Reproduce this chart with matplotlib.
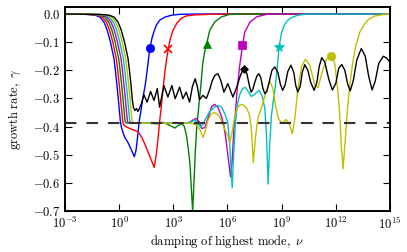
import numpy as np
import matplotlib
matplotlib.use("Agg")
import matplotlib.pyplot as plt
from matplotlib.ticker import FuncFormatter, NullLocator

plt.rcParams["mathtext.fontset"] = "cm"
plt.rcParams["font.size"] = 9

# curves: log10(nu) and growth rate gamma
blue_lognu = [-3.00, -1.89, -1.34, -1.06, -0.84, -0.68, -0.57, -0.48, -0.40, -0.29, -0.21, -0.12,
              -0.05, 0.02, 0.07, 0.13, 0.21, 0.32, 0.49, 0.65, 0.84, 0.93, 1.01, 1.10, 1.18, 1.26,
              1.34, 1.43, 1.51, 1.59, 1.65, 1.70, 1.76, 1.81, 1.92, 2.06, 2.26, 2.53, 2.92, 3.36,
              4.19, 15.0]
blue_gamma = [0, -0.001, -0.004, -0.011, -0.029, -0.054, -0.079, -0.100, -0.125, -0.157, -0.200,
              -0.254, -0.300, -0.350, -0.382, -0.404, -0.421, -0.439, -0.457, -0.479, -0.507,
              -0.486, -0.443, -0.386, -0.354, -0.321, -0.289, -0.257, -0.221, -0.179, -0.146,
              -0.121, -0.104, -0.0875, -0.064, -0.039, -0.021, -0.011, -0.004, -0.001, 0, 0]

drop_gamma = [0, -0.001, -0.004, -0.011, -0.029, -0.054, -0.079, -0.100, -0.125, -0.157, -0.200,
              -0.254, -0.300, -0.350, -0.382]

red_lognu = [-3.00, -1.76, -1.21, -0.93, -0.71, -0.55, -0.44, -0.35, -0.27, -0.16, -0.08, 0.01,
             0.08, 0.15, 0.20,
             0.27, 0.49, 0.76, 1.04, 1.26, 1.48, 1.70, 1.84, 1.94, 2.06, 2.17, 2.26, 2.34, 2.42,
             2.53, 2.62, 2.72, 2.84, 2.99, 3.20, 3.42, 3.70, 4.19, 5.02, 6.13, 15.0]
red_gamma = drop_gamma + [-0.396, -0.404, -0.411, -0.418, -0.439, -0.471, -0.507, -0.529, -0.545,
                          -0.496, -0.432, -0.371, -0.325, -0.271, -0.207, -0.164, -0.1225, -0.086,
                          -0.057, -0.032, -0.016, -0.007, -0.003, -0.001, 0, 0]

green_lognu = [-3.00, -1.63, -1.08, -0.80, -0.58, -0.42, -0.31, -0.22, -0.14, -0.03, 0.05, 0.14,
               0.21, 0.28, 0.33,
               0.40, 0.8, 1.5, 2.16, 2.44, 2.72, 3.09, 3.27, 3.49, 3.61, 3.72, 3.83, 3.92, 3.99,
               4.07, 4.14, 4.22, 4.30, 4.38, 4.44, 4.51, 4.62, 4.72, 4.84, 4.94, 5.02, 5.30, 5.67,
               6.13, 6.96, 15.0]
green_gamma = drop_gamma + [-0.387, -0.388, -0.388, -0.390, -0.385, -0.393, -0.405, -0.396, -0.390,
                            -0.400, -0.429, -0.479, -0.532, -0.611, -0.700, -0.604, -0.486, -0.396,
                            -0.350, -0.307, -0.265, -0.182, -0.139, -0.108, -0.079, -0.057,
                            -0.0275, -0.010, -0.001, 0, 0]

magenta_lognu = [-3.00, -1.50, -0.95, -0.67, -0.45, -0.29, -0.18, -0.09, -0.01, 0.10, 0.18, 0.27,
                 0.34, 0.41, 0.46,
                 0.53, 1.5, 3.0, 3.81, 3.97, 4.08, 4.25, 4.42, 4.57, 4.75, 4.93, 5.12, 5.28, 5.47,
                 5.63, 5.80, 5.91, 6.04, 6.17, 6.26, 6.35, 6.45, 6.54, 6.68, 6.83, 6.96, 7.24, 7.61,
                 8.16, 8.90, 15.0]
magenta_gamma = drop_gamma + [-0.387, -0.388, -0.388, -0.388, -0.382, -0.377, -0.371, -0.382,
                              -0.407, -0.403, -0.368, -0.329, -0.321, -0.332, -0.357, -0.396,
                              -0.443, -0.511, -0.579, -0.521, -0.414, -0.343, -0.264, -0.182,
                              -0.111, -0.064, -0.029, -0.010, -0.001, 0, 0]

cyan_lognu = [-3.00, -1.37, -0.82, -0.54, -0.32, -0.16, -0.05, 0.04, 0.12, 0.23, 0.31, 0.40, 0.47,
              0.54, 0.59,
              0.66, 1.5, 3.0, 3.81, 4.03, 4.19, 4.36, 4.50, 4.64, 4.80, 5.02, 5.25, 5.47, 5.66,
              5.85, 6.02, 6.13, 6.26, 6.35, 6.44, 6.55, 6.68, 6.85, 6.99, 7.15, 7.32, 7.49, 7.74,
              7.93, 8.07, 8.16, 8.25, 8.34, 8.43, 8.54, 8.65, 8.76, 8.86, 8.99, 9.12, 9.29, 9.51,
              9.89, 10.45, 15.0]
cyan_gamma = drop_gamma + [-0.387, -0.388, -0.388, -0.388, -0.382, -0.377, -0.389, -0.402, -0.393,
                           -0.371, -0.346, -0.332, -0.325, -0.330, -0.354, -0.386, -0.468, -0.618,
                           -0.486, -0.386, -0.321, -0.286, -0.264, -0.261, -0.275, -0.293, -0.286,
                           -0.271, -0.293, -0.336, -0.432, -0.604, -0.461, -0.364, -0.307, -0.257,
                           -0.186, -0.117, -0.068, -0.043, -0.025, -0.014, -0.004, 0, 0]

yellow_lognu = [-3.00, -1.24, -0.69, -0.41, -0.19, -0.03, 0.08, 0.17, 0.25, 0.36, 0.44, 0.53, 0.60,
                0.67, 0.72,
                0.79, 1.5, 3.0, 3.92, 4.08, 4.30, 4.50, 4.64, 4.78, 4.91, 5.08, 5.25, 5.41, 5.58,
                5.74, 5.91, 6.05, 6.13, 6.24, 6.38, 6.52, 6.68, 6.88, 7.07, 7.21, 7.32, 7.43, 7.54,
                7.68, 7.90, 8.12, 8.34, 8.51, 8.68, 8.84, 9.06, 9.23, 9.40, 9.59, 9.73, 9.89, 10.10,
                10.32, 10.56, 10.84, 11.02, 11.22, 11.48, 11.72, 11.94, 12.12, 12.22, 12.30, 12.40,
                12.52, 12.63, 12.77, 12.94, 13.10, 13.33, 13.55, 13.77, 14.16, 14.71, 15.0]
yellow_gamma = drop_gamma + [-0.387, -0.388, -0.388, -0.388, -0.389, -0.396, -0.414, -0.439,
                             -0.414, -0.379, -0.357, -0.350, -0.354, -0.368, -0.393, -0.418,
                             -0.439, -0.456, -0.425, -0.371, -0.336, -0.323, -0.323, -0.336,
                             -0.357, -0.407, -0.529, -0.443, -0.371, -0.329, -0.279, -0.239,
                             -0.264, -0.332, -0.375, -0.389, -0.375, -0.386, -0.425, -0.371,
                             -0.271, -0.186, -0.161, -0.182, -0.254, -0.261, -0.211, -0.161,
                             -0.149, -0.175, -0.279, -0.361, -0.468, -0.550, -0.450, -0.350,
                             -0.254, -0.171, -0.114, -0.064, -0.039, -0.021, -0.007, -0.001, 0]

black_lognu = [-3.00, -1.11, -0.56, -0.28, -0.06, 0.10, 0.21, 0.30, 0.38, 0.49, 0.57, 0.66,
               0.72, 0.79, 0.87, 0.96, 1.04, 1.12, 1.22, 1.37, 1.55, 1.74, 1.93, 2.11, 2.24, 2.48,
               2.70, 2.92, 3.10, 3.35, 3.53, 3.71, 3.90, 4.06, 4.21, 4.33, 4.45, 4.64, 4.83, 5.00,
               5.16, 5.30, 5.47, 5.63, 5.80, 6.02, 6.30, 6.49, 6.68, 6.82, 6.94, 7.07, 7.21, 7.31,
               7.40, 7.51, 7.63, 7.74, 7.85, 7.96, 8.07, 8.18, 8.32, 8.46, 8.62, 8.79, 8.93, 9.06,
               9.20, 9.34, 9.51, 9.67, 9.78, 9.89, 10.03, 10.14, 10.28, 10.45, 10.61, 10.80, 10.95,
               11.08, 11.22, 11.39, 11.61, 11.81, 12.00, 12.16, 12.33, 12.50, 12.66, 12.80, 12.97,
               13.16, 13.41, 13.63, 13.82, 14.01, 14.18, 14.38, 14.63, 14.82, 15.0]
black_gamma = [0, -0.001, -0.004, -0.011, -0.029, -0.054, -0.079, -0.100, -0.125, -0.157, -0.200,
               -0.254,
               -0.300, -0.332, -0.343, -0.336, -0.346, -0.336, -0.321, -0.287, -0.313, -0.275,
               -0.307, -0.265, -0.331, -0.254, -0.295, -0.254, -0.301, -0.260, -0.301, -0.2775,
               -0.313, -0.257, -0.230, -0.257, -0.304, -0.289, -0.300, -0.271, -0.236, -0.218,
               -0.212, -0.236, -0.2775, -0.2475, -0.295, -0.264, -0.225, -0.202, -0.196, -0.211,
               -0.254, -0.2775, -0.268, -0.243, -0.220, -0.212, -0.227, -0.264, -0.283, -0.275,
               -0.239, -0.200, -0.188, -0.207, -0.250, -0.271, -0.250, -0.204, -0.182, -0.207,
               -0.254, -0.277, -0.257, -0.207, -0.180, -0.200, -0.243, -0.271, -0.243, -0.186,
               -0.155, -0.171, -0.232, -0.270, -0.246, -0.193, -0.179, -0.200, -0.250, -0.273,
               -0.236, -0.164, -0.1225, -0.150, -0.221, -0.270, -0.239, -0.175, -0.150, -0.157,
               -0.171]

# one marker per curve
marker_lognu = [1.70, 2.72, 4.84, 6.83, 8.86, 11.72, 6.94]
marker_gamma = [-0.121, -0.1225, -0.108, -0.111, -0.117, -0.149, -0.196]

reference_gamma = -0.388

x_tick_exps = [-3, 0, 3, 6, 9, 12, 15]
y_ticks = [0.0, -0.1, -0.2, -0.3, -0.4, -0.5, -0.6, -0.7]

curves = [
    (blue_lognu, blue_gamma, "b", "o", 6),
    (red_lognu, red_gamma, "r", "x", 5.5),
    (green_lognu, green_gamma, "g", "^", 6),
    (magenta_lognu, magenta_gamma, "m", "s", 5.5),
    (cyan_lognu, cyan_gamma, "c", "*", 7.5),
    (yellow_lognu, yellow_gamma, "y", "o", 6),
    (black_lognu, black_gamma, "k", "D", 4.5),
]

fig = plt.figure(figsize=(4.07, 2.52), dpi=100)
ax = fig.add_axes([0.1597, 0.1627, 0.7985, 0.8095])

for i, (lx, g, col, mk, ms) in enumerate(curves):
    ax.plot(10.0 ** np.array(lx), g, color=col, lw=1.0)
    ax.plot(10.0 ** marker_lognu[i], marker_gamma[i], marker=mk, color=col, ms=ms,
            mec=col, mew=1.2 if mk == "x" else 0.5, ls="none")

ax.axhline(reference_gamma, color="0.2", lw=1.5, ls=(0, (5.5, 4.8)))

ax.set_xscale("log")
ax.set_xlim(1e-3, 1e15)
ax.set_ylim(-0.7, 0.025)
ax.set_xticks([10.0 ** e for e in x_tick_exps])
ax.xaxis.set_minor_locator(NullLocator())
ax.xaxis.set_major_formatter(FuncFormatter(lambda v, p: r"$10^{%d}$" % round(np.log10(v))))
ax.set_yticks(y_ticks)
ax.yaxis.set_major_formatter(FuncFormatter(lambda v, p: r"$%.1f$" % (0.0 if abs(v) < 1e-9 else v)))

ax.tick_params(direction="in", top=True, right=True, length=5, width=0.8, labelsize=9)
for s in ax.spines.values():
    s.set_linewidth(1.4)

ax.set_xlabel(r"$\mathrm{damping\ of\ highest\ mode,}\ \nu$", fontsize=9, labelpad=1)
ax.set_ylabel(r"$\mathrm{growth\ rate,}\ \gamma$", fontsize=9, labelpad=7)

fig.savefig("out.png", dpi=100)
